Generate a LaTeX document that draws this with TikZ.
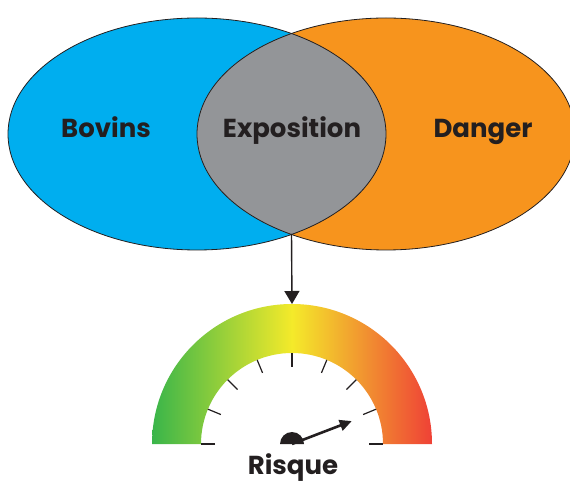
\documentclass[tikz,border=0pt]{standalone}
\usepackage{fontspec}
\setmainfont{Poppins}
\usetikzlibrary{arrows.meta}
\definecolor{bovinblue}{HTML}{00AEEF}
\definecolor{dangerorange}{HTML}{F7941D}
\definecolor{expogrey}{HTML}{939598}
\definecolor{ink}{HTML}{231F20}
\definecolor{lowgreen}{HTML}{39B54A}
\definecolor{midyellow}{HTML}{F4EA2A}
\definecolor{highred}{HTML}{EF4136}
\pgfdeclarehorizontalshading{gaugeshade}{100bp}{color(0bp)=(lowgreen); color(25bp)=(lowgreen); color(50bp)=(midyellow); color(75bp)=(highred); color(100bp)=(highred)}
\begin{document}
\begin{tikzpicture}[x=1pt,y=1pt,
	label/.style={font=\fontsize{26}{30}\selectfont\bfseries, text=ink, anchor=base, inner sep=0pt},
	rim/.style={draw=ink, line width=0.8pt},
	tick/.style={draw=ink, line width=1.2pt},
	needle/.style={ink, line width=2.6pt, -{Triangle[width=11pt,length=12pt]}}
]
\useasboundingbox (0,0) rectangle (570,482);

\coordinate (L) at (197,348);
\coordinate (R) at (386,348);
\coordinate (low) at (291.5,248);
\coordinate (G) at (292,38);
\coordinate (top) at (292,178);

\fill[bovinblue] (L) ellipse[x radius=189pt, y radius=116pt];
\fill[dangerorange] (R) ellipse[x radius=189pt, y radius=116pt];
\begin{scope}
	\clip (L) ellipse[x radius=189pt, y radius=116pt];
	\fill[expogrey] (R) ellipse[x radius=189pt, y radius=116pt];
\end{scope}
\draw[rim] (L) ellipse[x radius=189pt, y radius=116pt];
\draw[rim] (R) ellipse[x radius=189pt, y radius=116pt];

\node[label] (bovins) at (106,344) {Bovins};
\node[label] (expo) at (292,344) {Exposition};
\node[label] (danger) at (483,344) {Danger};

\draw[ink, line width=1.4pt, -{Triangle[width=15pt,length=13pt]}] (low) -- (top);

\shade[shading=gaugeshade]
(G) ++(-140,0) arc[start angle=180, end angle=0, radius=140pt]
-- ++(-49,0) arc[start angle=0, end angle=180, radius=91pt]
-- cycle;

\foreach \a in {0,22.5,...,180}{
	\draw[tick, shift={(G)}] (\a:77) -- (\a:91);
}

\fill[ink] (G) ++(12,0) arc[start angle=0, end angle=180, radius=12pt] -- cycle;
\path (G) ++(21:64) coordinate (tip);
\draw[needle] (G) -- (tip);

\node[label] (risque) at (293,8) {Risque};

\end{tikzpicture}
\end{document}
